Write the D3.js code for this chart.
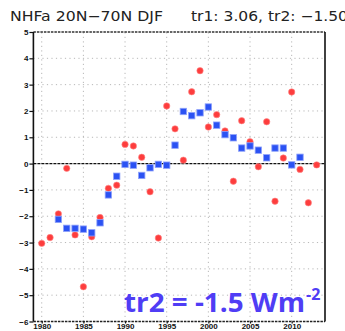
<!DOCTYPE html>
<html>
<head>
<meta charset="utf-8">
<script src="https://cdn.jsdelivr.net/npm/d3@7"></script>
<style>
  html, body { margin: 0; padding: 0; background: #fff; }
  svg { display: block; }
</style>
</head>
<body>
<script>
// Annual NH heat-flux anomaly (DJF, 20N-70N) and its smoothed series
const years = d3.range(1980, 2014);
const annualValues = [
  -3.03, -2.81, -1.91, -0.18, -2.71, -4.68, -2.78, -2.05, -0.94, -0.82,
   0.73,  0.67,  0.24, -1.07, -2.83,  2.19,  1.32,  0.13,  2.73,  3.53,
   1.39,  1.86,  1.24, -0.67,  1.63,  0.83, -0.12,  1.59, -1.43,  0.21,
   2.72, -0.22, -1.49, -0.05
];
const smoothYears = d3.range(1982, 2012);
const smoothValues = [
  -2.12, -2.46, -2.46, -2.49, -2.63, -2.25, -1.19, -0.48, -0.03, -0.06,
  -0.45, -0.16, -0.03, -0.06,  0.70,  1.98,  1.82,  1.93,  2.15,  1.46,
   1.10,  0.98,  0.59,  0.67,  0.51,  0.22,  0.59,  0.59, -0.05,  0.24
];
const yTicks = [-6, -5, -4, -3, -2, -1, 0, 1, 2, 3, 4, 5];
const xTicks = [1980, 1985, 1990, 1995, 2000, 2005, 2010];
const titleLeft = "NHFa 20N\u221270N DJF";
const titleRight = "tr1: 3.06, tr2: \u22121.50";
const trendLabel = "tr2 = -1.5 Wm";
const trendUnitExp = "-2";

const W = 345, H = 331;
const svg = d3.select("body").append("svg").attr("width", W).attr("height", H);

const x = d3.scaleLinear().domain([1979, 2014]).range([33.4, 325.0]);
const y = d3.scaleLinear().domain([-6, 5]).range([321.5, 32]);
const [x0, x1] = x.range();
const [yb, yt] = y.range();

// grid
const grid = svg.append("g");
grid.selectAll(".hg").data(yTicks.filter(v => v > -6 && v < 5 && v !== 0)).join("line")
  .attr("x1", x0).attr("x2", x1)
  .attr("y1", d => y(d)).attr("y2", d => y(d))
  .attr("stroke", "#b8b8b8").attr("stroke-width", 1).attr("stroke-dasharray", "1.2,3.3");
grid.selectAll(".vg").data(xTicks).join("line")
  .attr("x1", d => x(d)).attr("x2", d => x(d))
  .attr("y1", yb).attr("y2", yt)
  .attr("stroke", "#b8b8b8").attr("stroke-width", 1).attr("stroke-dasharray", "1.2,3.3");

// zero line
svg.append("line").attr("x1", x0).attr("x2", x1).attr("y1", y(0)).attr("y2", y(0))
  .attr("stroke", "#111").attr("stroke-width", 1.3).attr("stroke-dasharray", "3,1");

// frame: dashed top/bottom, solid sides
svg.append("line").attr("x1", x0).attr("x2", x1).attr("y1", yt).attr("y2", yt)
  .attr("stroke", "#333").attr("stroke-width", 1.3).attr("stroke-dasharray", "2.5,1");
svg.append("line").attr("x1", x0).attr("x2", x1).attr("y1", yb).attr("y2", yb)
  .attr("stroke", "#222").attr("stroke-width", 1.5).attr("stroke-dasharray", "2.5,1");
svg.append("line").attr("x1", x0).attr("x2", x0).attr("y1", yt).attr("y2", yb)
  .attr("stroke", "#111").attr("stroke-width", 1.6);
svg.append("line").attr("x1", x1).attr("x2", x1).attr("y1", yt).attr("y2", yb)
  .attr("stroke", "#111").attr("stroke-width", 1.6);

// axes
const fmt = d => (d < 0 ? "\u2212" + Math.abs(d) : String(d));
const yAxis = d3.axisLeft(y).tickValues(yTicks).tickSize(4).tickPadding(1).tickFormat(fmt);
const gy = svg.append("g").attr("transform", `translate(${x0},0)`).call(yAxis);
gy.select(".domain").remove();
gy.selectAll("line").attr("stroke", "#111").attr("stroke-width", 1.2);
gy.selectAll("text").attr("font-family", "Liberation Sans, Arial, sans-serif")
  .attr("font-size", 8).attr("font-weight", "bold").attr("fill", "#111");

const xAxis = d3.axisBottom(x).tickValues(xTicks).tickSize(2).tickPadding(0).tickFormat(d3.format("d"));
const gx = svg.append("g").attr("transform", `translate(0,${yb})`).call(xAxis);
gx.select(".domain").remove();
gx.selectAll("line").attr("stroke", "#111").attr("stroke-width", 1.2);
gx.selectAll("text").attr("font-family", "Liberation Sans, Arial, sans-serif")
  .attr("font-size", 8).attr("font-weight", "bold").attr("fill", "#111");

// annual values (red circles)
svg.append("g").selectAll("circle").data(years.map((yr, i) => [yr, annualValues[i]])).join("circle")
  .attr("cx", d => x(d[0])).attr("cy", d => y(d[1])).attr("r", 3.2)
  .attr("fill", "#fd3d3d").attr("stroke", "#ff8a8a").attr("stroke-width", 0.6);

// smoothed values (blue squares)
const s = 6.4;
svg.append("g").selectAll("rect").data(smoothYears.map((yr, i) => [yr, smoothValues[i]])).join("rect")
  .attr("x", d => x(d[0]) - s / 2).attr("y", d => y(d[1]) - s / 2)
  .attr("width", s).attr("height", s)
  .attr("fill", "#2b52f3").attr("stroke", "#8fa2fb").attr("stroke-width", 0.8);

// title
const tf = "DejaVu Sans, Verdana, sans-serif";
svg.append("text").attr("x", 10).attr("y", 21).attr("font-family", tf).attr("font-size", 13.5)
  .attr("textLength", 153).attr("lengthAdjust", "spacingAndGlyphs").attr("fill", "#222").text(titleLeft);
svg.append("text").attr("x", 191).attr("y", 21).attr("font-family", tf).attr("font-size", 13.5)
  .attr("textLength", 157).attr("lengthAdjust", "spacingAndGlyphs").attr("fill", "#222").text(titleRight);

// trend annotation
const annFont = "Open Sans, Liberation Sans, sans-serif";
svg.append("text").attr("x", 124).attr("y", 312)
  .attr("font-family", annFont).attr("font-weight", "bold")
  .attr("font-size", 26).attr("fill", "#4f3df5")
  .attr("textLength", 181).attr("lengthAdjust", "spacingAndGlyphs")
  .text(trendLabel);
svg.append("text").attr("x", 306).attr("y", 300)
  .attr("font-family", annFont).attr("font-weight", "bold")
  .attr("font-size", 16).attr("fill", "#4f3df5")
  .text(trendUnitExp);
</script>
</body>
</html>
